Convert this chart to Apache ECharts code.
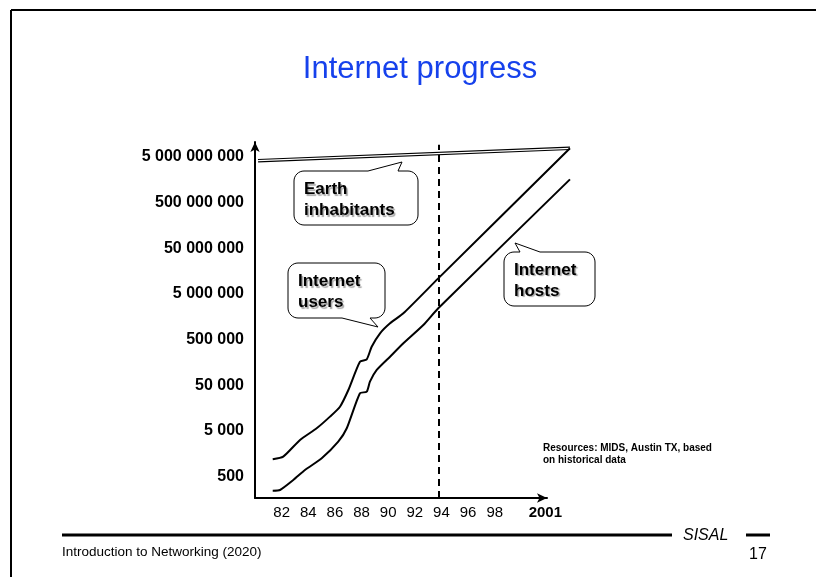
<!DOCTYPE html>
<html>
<head>
<meta charset="utf-8">
<script src="https://cdn.jsdelivr.net/npm/echarts@6/dist/echarts.min.js"></script>
<style>
html,body{margin:0;padding:0;background:#fff;}
#chart{width:816px;height:577px;}
</style>
</head>
<body>
<div id="chart"></div>
<script>
// ---- data (x in years, y in counts, log scale) ----
const usersYears  = [1981.33, 1982.12, 1983.38, 1984.63, 1985.63, 1986.38, 1987.01, 1987.88, 1988.39, 1988.76, 1989.39, 1990.14, 1991.14, 1993.76, 2003.65];
const usersValues = [1200, 1370, 3180, 5730, 10300, 17000, 39400, 164000, 185000, 349000, 686000, 1135000, 1880000, 10900000, 7640000000];

const hostsYears  = [1981.33, 1981.88, 1982.88, 1983.75, 1985.01, 1986.25, 1986.89, 1987.88, 1988.39, 1988.63, 1989.14, 1990.14, 1991.14, 1992.64, 1993.76, 2003.65];
const hostsValues = [247, 256, 424, 701, 1264, 2915, 5730, 33400, 36200, 59900, 108000, 211000, 414000, 1040000, 2420000, 1600000000];

const earthYears  = [1980.23, 2003.65];
const earthValues = [4090000000, 7640000000];

const dividerYear = 1993.76;

const xTickValues = [1982, 1984, 1986, 1988, 1990, 1992, 1994, 1996, 1998, 2001.8];
const xTickLabels = ['82', '84', '86', '88', '90', '92', '94', '96', '98', '2001'];

const yTickValues = [500, 5000, 50000, 500000, 5000000, 50000000, 500000000, 5000000000];
const yTickLabels = ['500', '5 000', '50 000', '500 000', '5 000 000', '50 000 000', '500 000 000', '5 000 000 000'];

// ---- helpers ----
const FONT = "'Liberation Sans', Arial, Helvetica, sans-serif";
const lg = v => Math.log10(v);
const pairs = (xs, ys) => xs.map((x, i) => [x, lg(ys[i])]);

function labelFor(values, labels, v, useLog) {
  for (let i = 0; i < values.length; i++) {
    const t = useLog ? lg(values[i]) : values[i];
    if (Math.abs(t - v) < 1e-6) return labels[i];
  }
  return '';
}

function arcPts(cx, cy, r, a0, a1) {
  const out = [];
  const n = 8;
  for (let i = 0; i <= n; i++) {
    const a = a0 + (a1 - a0) * i / n;
    out.push([cx + r * Math.cos(a), cy + r * Math.sin(a)]);
  }
  return out;
}

// rounded box with a pointer tail (clockwise outline)
function callout(x, y, w, h, r, side, b1, b2, tx, ty) {
  const P = Math.PI;
  let pts = [];
  pts = pts.concat(arcPts(x + r, y + r, r, P, 1.5 * P));
  if (side === 'top') pts.push([b1, y], [tx, ty], [b2, y]);
  pts = pts.concat(arcPts(x + w - r, y + r, r, 1.5 * P, 2 * P));
  pts = pts.concat(arcPts(x + w - r, y + h - r, r, 0, 0.5 * P));
  if (side === 'bottom') pts.push([b2, y + h], [tx, ty], [b1, y + h]);
  pts = pts.concat(arcPts(x + r, y + h - r, r, 0.5 * P, P));
  return {
    type: 'polygon', shape: { points: pts },
    style: { fill: '#fff', stroke: '#000', lineWidth: 1 }, z: 50
  };
}

function calloutText(x, y, text) {
  return {
    type: 'text', x: x, y: y, z: 51,
    style: {
      text: text, fill: '#000', font: `bold 17px ${FONT}`,
      lineHeight: 21, verticalAlign: 'middle', align: 'left',
      textShadowColor: 'rgba(0,0,0,0.35)', textShadowOffsetX: 1.5, textShadowOffsetY: 1.5, textShadowBlur: 1
    }
  };
}

const chart = echarts.init(document.getElementById('chart'), null, { renderer: 'canvas' });

const lineBase = { type: 'line', symbol: 'none', clip: false, silent: true, animation: false,
  xAxisIndex: 1, yAxisIndex: 1 };

// scale shared by both grids: px per year and px per decade are identical
const X_MIN = 1980, Y_MIN = 2.233, Y_MAX = 10.021;
const PX_PER_YEAR = 13.318;
const AXIS_LEFT = 255, AXIS_RIGHT_PX = 547, DATA_RIGHT_PX = 571;

const option = {
  backgroundColor: '#fff',
  animation: false,
  textStyle: { fontFamily: FONT },
  grid: [
    { left: AXIS_LEFT, right: 816 - AXIS_RIGHT_PX, top: 142, bottom: 79, containLabel: false },
    { left: AXIS_LEFT, right: 816 - DATA_RIGHT_PX, top: 142, bottom: 79, containLabel: false }
  ],
  xAxis: [{
    type: 'value', gridIndex: 0, min: X_MIN, max: X_MIN + (AXIS_RIGHT_PX - AXIS_LEFT) / PX_PER_YEAR,
    axisLine: { show: true, onZero: false, symbol: ['none', 'arrow'], symbolSize: [7, 10],
      lineStyle: { color: '#000', width: 2 } },
    axisTick: { show: false },
    splitLine: { show: false },
    axisLabel: {
      customValues: xTickValues, margin: 7, color: '#000', fontSize: 15, fontFamily: FONT,
      hideOverlap: false,
      formatter: v => {
        const s = labelFor(xTickValues, xTickLabels, v, false);
        return s === '2001' ? '{b|' + s + '}' : s;
      },
      rich: { b: { fontWeight: 'bold', fontSize: 15, color: '#000', fontFamily: FONT } }
    }
  }, {
    type: 'value', gridIndex: 1, min: X_MIN, max: X_MIN + (DATA_RIGHT_PX - AXIS_LEFT) / PX_PER_YEAR,
    show: false
  }],
  yAxis: [{
    type: 'value', gridIndex: 0, min: Y_MIN, max: Y_MAX,
    axisLine: { show: true, onZero: false, symbol: ['none', 'arrow'], symbolSize: [7, 10],
      lineStyle: { color: '#000', width: 2 } },
    axisTick: { show: false },
    splitLine: { show: false },
    axisLabel: {
      customValues: yTickValues.map(lg), margin: 11, color: '#000', fontSize: 16,
      fontWeight: 'bold', fontFamily: FONT, hideOverlap: false,
      formatter: v => labelFor(yTickValues, yTickLabels, v, true)
    }
  }, {
    type: 'value', gridIndex: 1, min: Y_MIN, max: Y_MAX, show: false
  }],
  series: [
    Object.assign({}, lineBase, { name: 'Earth inhabitants', data: pairs(earthYears, earthValues),
      lineStyle: { color: '#000', width: 3.6 }, z: 2 }),
    Object.assign({}, lineBase, { name: 'Earth inhabitants inner', data: pairs(earthYears, earthValues),
      lineStyle: { color: '#fff', width: 1.3 }, z: 3 }),
    Object.assign({}, lineBase, { name: 'Internet users', data: pairs(usersYears, usersValues), smooth: 0.2,
      lineStyle: { color: '#000', width: 2 }, z: 4,
      markLine: {
        silent: true, symbol: ['none', 'none'], animation: false, label: { show: false },
        lineStyle: { color: '#000', width: 2, type: [7, 5] },
        data: [[{ coord: [dividerYear, Y_MIN] }, { coord: [dividerYear, lg(earthValues[0]) + 0.35] }]]
      }
    }),
    Object.assign({}, lineBase, { name: 'Internet hosts', data: pairs(hostsYears, hostsValues), smooth: 0.2,
      lineStyle: { color: '#000', width: 2 }, z: 4 })
  ],
  graphic: [
    // page frame
    { type: 'line', shape: { x1: 11, y1: 10, x2: 816, y2: 10 }, style: { stroke: '#000', lineWidth: 2 } },
    { type: 'line', shape: { x1: 11, y1: 10, x2: 11, y2: 577 }, style: { stroke: '#000', lineWidth: 2 } },
    // title
    { type: 'text', x: 420, y: 69, style: { text: 'Internet progress', fill: '#1641ec',
      font: `31px ${FONT}`, align: 'center', verticalAlign: 'middle' } },
    // callouts
    callout(294, 171, 124, 54, 10, 'top', 368, 398, 402, 162),
    calloutText(304, 200, 'Earth\ninhabitants'),
    callout(288, 263, 97, 55, 10, 'bottom', 342, 370, 378, 327),
    calloutText(298, 292, 'Internet\nusers'),
    callout(504, 252, 91, 54, 10, 'top', 520, 540, 515, 243),
    calloutText(514, 280.5, 'Internet\nhosts'),
    // source note
    { type: 'text', x: 543, y: 454.5, style: { text: 'Resources: MIDS, Austin TX, based\non historical data',
      fill: '#000', font: `bold 10px ${FONT}`, lineHeight: 12.4, align: 'left', verticalAlign: 'middle' } },
    // footer
    { type: 'line', shape: { x1: 62, y1: 535, x2: 672, y2: 535 }, style: { stroke: '#000', lineWidth: 3 } },
    { type: 'text', x: 683, y: 536, style: { text: 'SISAL', fill: '#000', font: `italic 16px ${FONT}`,
      align: 'left', verticalAlign: 'middle' } },
    { type: 'line', shape: { x1: 746, y1: 535, x2: 770, y2: 535 }, style: { stroke: '#000', lineWidth: 3 } },
    { type: 'text', x: 758, y: 555, style: { text: '17', fill: '#000', font: `16px ${FONT}`,
      align: 'center', verticalAlign: 'middle' } },
    { type: 'text', x: 62, y: 552, style: { text: 'Introduction to Networking (2020)', fill: '#000',
      font: `13.5px ${FONT}`, align: 'left', verticalAlign: 'middle' } }
  ]
};

chart.setOption(option);
</script>
</body>
</html>
